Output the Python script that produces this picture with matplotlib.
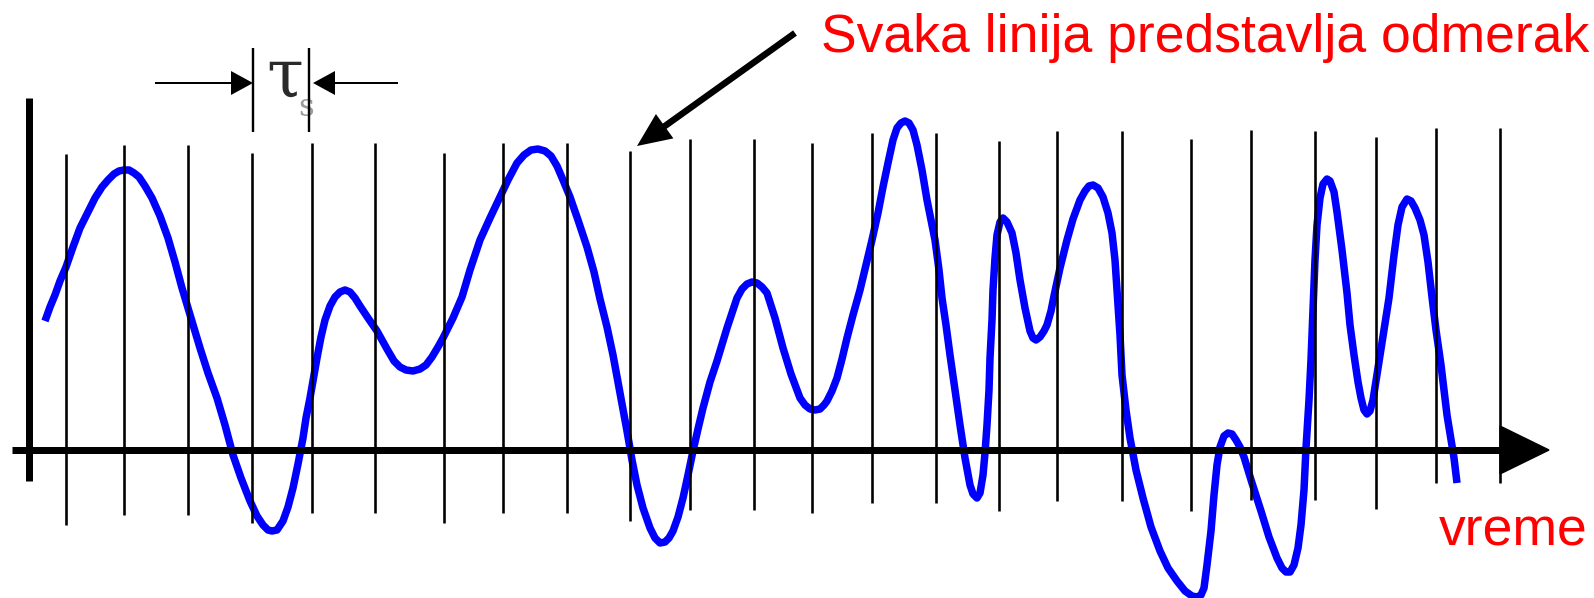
import matplotlib
matplotlib.use("Agg")
import matplotlib.pyplot as plt

# everything is in picture pixels (y grows downwards)
W, H = 1594, 598

# the blue signal (x, y pairs)
wave_pts = [
    (45, 321), (50, 307), (55, 295), (60, 281), (66, 267), (73, 247), (80, 228), (88, 212), (95, 198),
    (102, 187), (108, 180), (114, 174), (119, 171), (124, 170), (129, 170), (134, 173), (139, 177),
    (145, 186), (152, 198), (160, 216), (168, 238), (175, 262), (182, 288), (191, 318), (200, 348),
    (208, 373), (217, 398), (225, 425), (233, 455), (241, 478), (250, 501), (257, 516), (263, 525),
    (268, 530), (272, 531), (277, 530), (283, 521), (288, 507), (293, 488), (298, 464), (303, 438),
    (306, 418), (310, 398), (317, 358), (321, 337), (325, 320), (330, 306), (335, 297), (340, 292),
    (345, 290), (350, 292), (355, 298), (360, 306), (368, 318), (377, 331), (387, 349), (394, 361),
    (400, 367), (406, 370), (413, 371), (420, 369), (426, 365), (432, 357), (438, 347), (443, 338),
    (453, 318), (462, 297), (470, 270), (480, 240), (490, 218), (500, 197), (508, 180), (517, 163),
    (524, 155), (531, 150), (538, 149), (545, 151), (551, 156), (557, 166), (563, 180), (570, 197),
    (578, 220), (587, 247), (594, 272), (600, 299), (607, 327), (613, 355), (620, 393), (627, 431),
    (632, 460), (637, 485), (643, 508), (650, 528), (655, 538), (660, 543), (665, 542), (669, 538),
    (673, 531), (678, 517), (683, 498), (688, 475), (693, 451), (698, 429), (703, 408), (710, 382),
    (717, 361), (727, 328), (737, 298), (742, 289), (747, 284), (752, 282), (757, 283), (762, 287),
    (767, 293), (775, 318), (783, 348), (791, 374), (800, 398), (805, 405), (810, 409), (815, 410),
    (820, 409), (824, 405), (827, 401), (832, 391), (837, 378), (842, 359), (847, 338), (853, 315),
    (860, 290), (866, 265), (872, 240), (878, 213), (883, 187), (888, 163), (893, 140), (897, 128),
    (901, 123), (905, 121), (909, 123), (913, 130), (917, 145), (922, 170), (927, 200), (931, 220),
    (935, 240), (939, 270), (942, 298), (946, 325), (950, 355), (955, 390), (960, 425), (965, 458),
    (970, 485), (973, 494), (977, 498), (980, 493), (983, 475), (985, 453), (987, 425), (989, 390),
    (990, 358), (992, 320), (993, 290), (995, 258), (997, 235), (1000, 222), (1003, 218), (1007, 222),
    (1012, 233), (1016, 253), (1020, 280), (1025, 308), (1030, 331), (1033, 338), (1036, 340),
    (1040, 337), (1044, 331), (1047, 325), (1051, 311), (1054, 296), (1060, 268), (1067, 240),
    (1073, 219), (1080, 200), (1085, 191), (1089, 186), (1093, 185), (1098, 188), (1103, 197),
    (1108, 213), (1112, 233), (1115, 260), (1117, 290), (1120, 335), (1122, 375), (1126, 410),
    (1130, 438), (1136, 470), (1143, 498), (1151, 527), (1160, 551), (1168, 568), (1177, 581),
    (1185, 591), (1192, 596), (1197, 597), (1201, 595), (1204, 588), (1207, 565), (1211, 531),
    (1214, 495), (1217, 465), (1220, 447), (1224, 436), (1228, 433), (1232, 434), (1236, 440),
    (1240, 447), (1244, 457), (1252, 483), (1261, 511), (1269, 537), (1277, 558), (1282, 568),
    (1286, 572), (1290, 572), (1294, 565), (1298, 548), (1301, 525), (1304, 490), (1306, 448),
    (1309, 400), (1311, 360), (1313, 310), (1315, 260), (1317, 225), (1320, 198), (1323, 184),
    (1327, 179), (1330, 181), (1334, 192), (1337, 212), (1342, 250), (1347, 293), (1350, 325),
    (1354, 355), (1358, 382), (1361, 398), (1364, 410), (1367, 414), (1370, 411), (1373, 400),
    (1376, 381), (1380, 355), (1384, 331), (1389, 298), (1394, 255), (1398, 225), (1402, 207),
    (1407, 199), (1411, 201), (1415, 208), (1420, 220), (1424, 235), (1428, 262), (1432, 297),
    (1436, 330), (1441, 365), (1447, 415), (1454, 458), (1457, 483),
]
wave_x = [p[0] for p in wave_pts]
wave_y = [p[1] for p in wave_pts]

# sample lines (odmerci)
sample_x = [66, 124, 188, 252, 312, 375, 444, 503, 567, 630, 690, 754, 812, 872, 936, 999, 1057,
            1122, 1191, 1251, 1315, 1376, 1436, 1500]
sample_top = [154, 145, 145, 153, 143, 143, 153, 143, 143, 151, 139, 139, 143, 133, 133, 141, 131,
              131, 139, 130, 131, 137, 128, 128]
sample_bottom = [525, 515, 515, 523, 513, 513, 523, 513, 513, 521, 510, 510, 513, 503, 503, 511, 501,
                 501, 511, 500, 500, 509, 483, 483]

# axes of the sketch
axis_y = 450
axis_x0, axis_x1 = 12, 1500
arrow_tip, arrow_half = 1549, 24
yaxis_x, yaxis_top, yaxis_bottom = 29.5, 98, 481

# tau_s marker
tau_lines_x = [253, 309]
tau_top, tau_bottom = 48, 132
tau_arrow_y = 83

title_text = "Svaka linija predstavlja odmerak"
time_text = "vreme"
px = 0.72  # points per pixel at dpi 100

fig = plt.figure(figsize=(W / 100, H / 100), dpi=100)
ax = fig.add_axes([0, 0, 1, 1])
ax.set_xlim(0, W)
ax.set_ylim(H, 0)
ax.axis("off")

# signal
ax.plot(wave_x, wave_y, color="#0000ff", lw=7.5 * px, solid_capstyle="butt",
        solid_joinstyle="round", zorder=2)

# samples
ax.vlines(sample_x, sample_top, sample_bottom, color="black", lw=2.6 * px, zorder=3)

# time axis with arrow head
ax.plot([axis_x0, axis_x1], [axis_y, axis_y], color="black", lw=7 * px, solid_capstyle="butt", zorder=4)
ax.fill([axis_x1, arrow_tip, axis_x1], [axis_y - arrow_half, axis_y, axis_y + arrow_half],
        color="black", zorder=4)
ax.plot([yaxis_x, yaxis_x], [yaxis_top, yaxis_bottom], color="black", lw=7 * px,
        solid_capstyle="butt", zorder=4)

# tau_s
ax.vlines(tau_lines_x, tau_top, tau_bottom, color="black", lw=2.4 * px, zorder=3)
ax.arrow(155, tau_arrow_y, tau_lines_x[0] - 155, 0, width=2, head_width=24, head_length=22,
         length_includes_head=True, color="black", lw=0)
ax.arrow(398, tau_arrow_y, tau_lines_x[1] + 4 - 398, 0, width=2, head_width=24, head_length=22,
         length_includes_head=True, color="black", lw=0)
ax.text(266, 97, "\u03c4", family=["DejaVu Serif"], fontsize=48,
        color="#2a2a2a", ha="left", va="baseline")
ax.text(298, 116, "s", family=["DejaVu Serif"], fontsize=22,
        color="#9a9a9a", ha="left", va="baseline", zorder=1)

# pointer arrow to one sample
ax.arrow(795, 33, 637 - 795, 146 - 33, width=6.5, head_width=30, head_length=34,
         length_includes_head=True, color="black", lw=0)

ax.text(821, 52, title_text, family=["Liberation Sans", "DejaVu Sans"], fontsize=38.5,
        color="#ff0000", ha="left", va="baseline")
ax.text(1439, 546, time_text, family=["Liberation Sans", "DejaVu Sans"], fontsize=38.5,
        color="#ff0000", ha="left", va="baseline")

fig.savefig("out.png", dpi=100)
